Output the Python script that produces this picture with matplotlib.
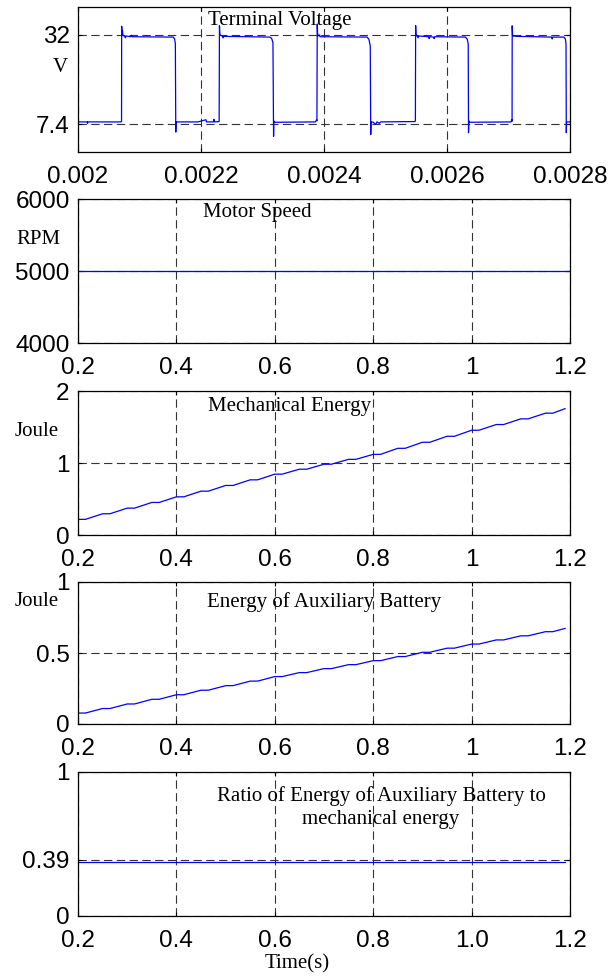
import matplotlib
matplotlib.use('Agg')
import matplotlib.pyplot as plt

# ---------------- data ----------------
# Panel 1: terminal voltage (s, V)
volt_t = [
    2.0000e-3, 2.0004e-3, 2.0150e-3, 2.0155e-3, 2.0160e-3, 2.0700e-3, 2.0708e-3,
    2.0710e-3, 2.0718e-3, 2.0724e-3, 2.0732e-3, 2.0760e-3, 2.0770e-3, 2.0780e-3,
    2.0860e-3, 2.0870e-3, 2.0880e-3, 2.1550e-3, 2.1570e-3, 2.1583e-3,
    2.1590e-3, 2.1594e-3, 2.1950e-3, 2.2080e-3, 2.2090e-3, 2.2200e-3, 2.2210e-3,
    2.2220e-3, 2.2295e-3,
    2.2300e-3, 2.2306e-3, 2.2312e-3, 2.2350e-3, 2.2360e-3, 2.2370e-3, 2.3120e-3,
    2.3150e-3, 2.3170e-3,
    2.3180e-3, 2.3184e-3, 2.3190e-3, 2.3200e-3, 2.3860e-3, 2.3880e-3, 2.3885e-3,
    2.3890e-3, 2.3896e-3, 2.3905e-3, 2.3930e-3, 2.3935e-3, 2.4700e-3, 2.4730e-3,
    2.4752e-3,
    2.4760e-3, 2.4765e-3, 2.4800e-3, 2.4840e-3, 2.4860e-3, 2.4900e-3, 2.4920e-3,
    2.5480e-3, 2.5486e-3,
    2.5490e-3, 2.5496e-3, 2.5510e-3, 2.5530e-3, 2.5540e-3, 2.5700e-3, 2.5710e-3,
    2.5720e-3, 2.5780e-3, 2.5790e-3, 2.5800e-3, 2.6300e-3, 2.6330e-3, 2.6345e-3,
    2.6350e-3, 2.6355e-3, 2.6370e-3, 2.7040e-3, 2.7055e-3, 2.7058e-3,
    2.7060e-3, 2.7066e-3, 2.7075e-3, 2.7130e-3, 2.7700e-3, 2.7710e-3, 2.7720e-3,
    2.7900e-3, 2.7925e-3, 2.7935e-3,
    2.7940e-3, 2.7944e-3, 2.8000e-3,
]
volt_v = [
    4.0, 8.0, 8.0, 7.6, 8.0, 8.0, 8.2,
    34.4, 32.2, 33.0, 31.8, 31.7, 31.2, 31.7,
    31.5, 31.9, 31.5, 31.4, 30.9, 29.6,
    5.2, 8.0, 8.0, 8.6, 8.0, 8.0, 8.7,
    8.0, 8.1,
    34.6, 32.4, 31.9, 31.7, 31.2, 31.6, 31.4,
    31.0, 29.8,
    4.0, 8.0, 8.2, 7.9, 8.0, 8.6, 8.3,
    35.0, 32.4, 31.7, 32.0, 31.5, 31.4, 30.8,
    29.0,
    4.5, 8.0, 7.9, 7.3, 8.0, 7.6, 8.0,
    8.1, 8.4,
    34.6, 32.0, 31.8, 31.2, 31.7, 31.5, 31.0,
    31.5, 31.4, 31.0, 31.5, 31.4, 30.8, 29.5,
    5.0, 8.3, 7.9, 8.0, 8.6, 8.2,
    34.5, 32.0, 31.7, 31.6, 31.4, 30.9, 31.4,
    31.4, 30.9, 29.5,
    5.0, 8.0, 8.0,
]
volt_xticks = [0.002, 0.0022, 0.0024, 0.0026, 0.0028]
volt_xlabels = ['0.002', '0.0022', '0.0024', '0.0026', '0.0028']
volt_yticks = [7.4, 32]
volt_ylabels = ['7.4', '32']

# Panel 2: motor speed
speed_t = [0.2, 1.2]
speed_rpm = [5000, 5000]

# Panels 3-4: energies
energy_t = [0.200, 0.215, 0.250, 0.265, 0.300, 0.315, 0.350, 0.365, 0.400, 0.415,
            0.450, 0.465, 0.500, 0.515, 0.550, 0.565, 0.600, 0.615, 0.650, 0.665,
            0.700, 0.715, 0.750, 0.765, 0.800, 0.815, 0.850, 0.865, 0.900, 0.915,
            0.950, 0.965, 1.000, 1.015, 1.050, 1.065, 1.100, 1.115, 1.150, 1.165,
            1.190]
mech_e = [0.217, 0.217, 0.295, 0.295, 0.373, 0.373, 0.452, 0.452, 0.530, 0.530,
          0.609, 0.609, 0.688, 0.688, 0.766, 0.766, 0.845, 0.845, 0.914, 0.914,
          0.983, 0.983, 1.051, 1.051, 1.120, 1.120, 1.204, 1.204, 1.288, 1.288,
          1.371, 1.371, 1.455, 1.455, 1.534, 1.534, 1.613, 1.613, 1.692, 1.692,
          1.755]
aux_e = [0.077, 0.077, 0.109, 0.109, 0.141, 0.141, 0.174, 0.174, 0.206, 0.206,
         0.238, 0.238, 0.270, 0.270, 0.302, 0.302, 0.334, 0.334, 0.362, 0.362,
         0.390, 0.390, 0.418, 0.418, 0.446, 0.446, 0.475, 0.475, 0.505, 0.505,
         0.534, 0.534, 0.563, 0.563, 0.592, 0.592, 0.621, 0.621, 0.650, 0.650,
         0.673]

# Panel 5: ratio
ratio_t = [0.2, 1.19]
ratio_v = [0.375, 0.375]

time_xticks = [0.2, 0.4, 0.6, 0.8, 1.0, 1.2]
time_xlabels = ['0.2', '0.4', '0.6', '0.8', '1', '1.2']
time_xlabels_last = ['0.2', '0.4', '0.6', '0.8', '1.0', '1.2']

# ---------------- figure ----------------
W, H = 616, 977
fig = plt.figure(figsize=(W / 100, H / 100), dpi=100)
SANS = 'Liberation Sans'
SERIF = 'Liberation Serif'
BLUE = '#0000FF'
TICK_FS = 17.5
TXT_FS = 15


def make_ax(top, bottom, left=78, right=570):
    ax = fig.add_axes([left / W, 1 - bottom / H, (right - left) / W, (bottom - top) / H])
    for s in ax.spines.values():
        s.set_linewidth(0.9)
        s.set_color('black')
    ax.tick_params(direction='in', length=3, width=0.8, top=True, right=True,
                   labelsize=TICK_FS)
    ax.tick_params(axis='x', pad=10)
    ax.tick_params(axis='y', pad=6)
    ax.grid(True, color='#333333', linewidth=0.8, linestyle=(0, (7.5, 4)))
    ax.set_axisbelow(True)
    return ax


def style_labels(ax):
    for lab in ax.get_xticklabels() + ax.get_yticklabels():
        lab.set_family(SANS)
        lab.set_fontsize(TICK_FS)


# Panel 1
ax1 = make_ax(7, 152)
ax1.plot(volt_t, volt_v, color=BLUE, lw=0.9)
ax1.set_xlim(0.002, 0.0028)
ax1.set_ylim(-0.3, 39.7)
ax1.set_xticks(volt_xticks, volt_xlabels)
ax1.set_yticks(volt_yticks, volt_ylabels)
style_labels(ax1)
ax1.text((208 - 78) / 492, 0.91, 'Terminal Voltage', transform=ax1.transAxes,
         ha='left', va='center', family=SERIF, fontsize=TXT_FS)

# Panel 2
ax2 = make_ax(199, 343)
ax2.plot(speed_t, speed_rpm, color=BLUE, lw=0.9)
ax2.set_xlim(0.2, 1.2)
ax2.set_ylim(4000, 6000)
ax2.set_xticks(time_xticks, time_xlabels)
ax2.set_yticks([4000, 5000, 6000], ['4000', '5000', '6000'])
style_labels(ax2)
ax2.text((203 - 78) / 492, 0.903, 'Motor Speed', transform=ax2.transAxes,
         ha='left', va='center', family=SERIF, fontsize=TXT_FS)

# Panel 3
ax3 = make_ax(391, 535)
ax3.plot(energy_t, mech_e, color=BLUE, lw=0.9)
ax3.set_xlim(0.2, 1.2)
ax3.set_ylim(0, 2)
ax3.set_xticks(time_xticks, time_xlabels)
ax3.set_yticks([0, 1, 2], ['0', '1', '2'])
style_labels(ax3)
ax3.text((208 - 78) / 492, 0.889, 'Mechanical Energy', transform=ax3.transAxes,
         ha='left', va='center', family=SERIF, fontsize=TXT_FS)

# Panel 4
ax4 = make_ax(582, 724)
ax4.plot(energy_t, aux_e, color=BLUE, lw=0.9)
ax4.set_xlim(0.2, 1.2)
ax4.set_ylim(0, 1)
ax4.set_xticks(time_xticks, time_xlabels)
ax4.set_yticks([0, 0.5, 1], ['0', '0.5', '1'])
style_labels(ax4)
ax4.text((207 - 78) / 492, 0.859, 'Energy of Auxiliary Battery', transform=ax4.transAxes,
         ha='left', va='center', family=SERIF, fontsize=TXT_FS)

# Panel 5
ax5 = make_ax(772, 916)
ax5.plot(ratio_t, ratio_v, color=BLUE, lw=0.9)
ax5.set_xlim(0.2, 1.2)
ax5.set_ylim(0, 1)
ax5.set_xticks(time_xticks, time_xlabels_last)
ax5.set_yticks([0, 0.39, 1], ['0', '0.39', '1'])
style_labels(ax5)
ax5.text((381 - 78) / 492, 0.833, 'Ratio of Energy of Auxiliary Battery to',
         transform=ax5.transAxes, ha='center', va='center', family=SERIF, fontsize=TXT_FS)
ax5.text((381 - 78) / 492, 0.667, 'mechanical energy',
         transform=ax5.transAxes, ha='center', va='center', family=SERIF, fontsize=TXT_FS)

# axis unit labels
fig.text(60 / W, 1 - 67 / H, 'V', ha='center', va='center', family=SERIF, fontsize=TXT_FS)
fig.text(38 / W, 1 - 240 / H, 'RPM', ha='center', va='center', family=SERIF, fontsize=TXT_FS)
fig.text(37 / W, 1 - 432 / H, 'Joule', ha='center', va='center', family=SERIF, fontsize=TXT_FS)
fig.text(37 / W, 1 - 602 / H, 'Joule', ha='center', va='center', family=SERIF, fontsize=TXT_FS)
fig.text(297 / W, 1 - 964 / H, 'Time(s)', ha='center', va='center', family=SERIF, fontsize=TXT_FS)

fig.savefig('out.png', dpi=100, facecolor='white')
